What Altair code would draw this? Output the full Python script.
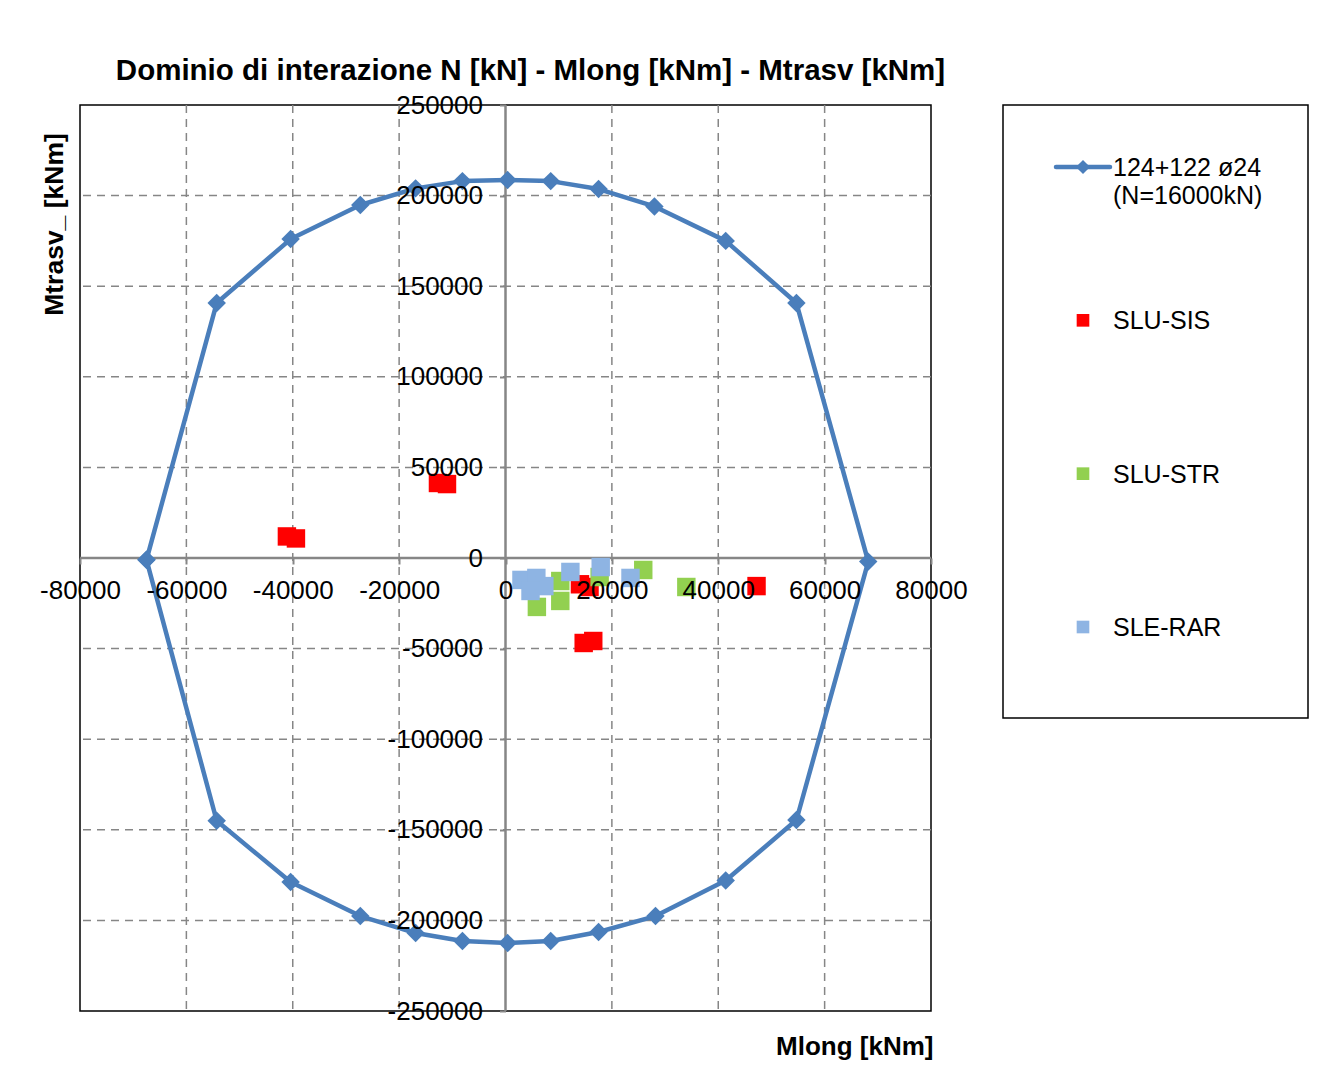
import altair as alt
import pandas as pd

TITLE = "Dominio di interazione N [kN] - Mlong [kNm] - Mtrasv [kNm]"
X_TITLE = "Mlong [kNm]"
Y_TITLE = "Mtrasv_ [kNm]"

SERIES = ["124+122 ø24\n(N=16000kN)", "SLU-SIS", "SLU-STR", "SLE-RAR"]
COLORS = ["#4A7EBB", "#FF0000", "#92D050", "#8EB4E3"]

# interaction domain (closed polygon)
dom_mlong = [-67500, -54300, -40400, -27300, -16900, -8100, 400, 8500, 17500, 28000,
             41400, 54700, 68200, 54700, 41400, 28200, 17500, 8500, 400, -8100,
             -16900, -27300, -40400, -54300, -67500]
dom_mtrasv = [-1000, 140700, 176000, 194800, 204000, 208000, 208600, 208000, 203600, 194000,
              175000, 140700, -2000, -144600, -178000, -197600, -206400, -211400, -212500, -211400,
              -207000, -197600, -178800, -145000, -1000]

sis_mlong = [-41100, -39400, -12700, -11000, 14000, 15800, 14700, 16500, 47200]
sis_mtrasv = [11900, 10800, 41400, 40800, -14500, -16000, -46900, -45800, -15500]

str_mlong = [5900, 10300, 10300, 17700, 25900, 34000]
str_mtrasv = [-27000, -12700, -23700, -10500, -6600, -16000]

rar_mlong = [3000, 5800, 7300, 4700, 12200, 17900, 23500]
rar_mtrasv = [-12100, -11000, -15500, -18200, -7700, -5000, -11000]

x_ticks = list(range(-80000, 80001, 20000))
y_ticks = list(range(-250000, 250001, 50000))

FONT = "Liberation Sans, Arial, Helvetica, sans-serif"
GRID = "#868686"

dom_df = pd.DataFrame({"Mlong": dom_mlong, "Mtrasv": dom_mtrasv, "i": range(len(dom_mlong))})
pts = []
for name, xs_, ys_ in [(SERIES[1], sis_mlong, sis_mtrasv), (SERIES[2], str_mlong, str_mtrasv),
                       (SERIES[3], rar_mlong, rar_mtrasv)]:
    for a, b in zip(xs_, ys_):
        pts.append({"Mlong": a, "Mtrasv": b, "serie": name})
pts_df = pd.DataFrame(pts)

xgrid_df = pd.DataFrame({"v": [v for v in x_ticks if v not in (0, x_ticks[0], x_ticks[-1])]})
ygrid_df = pd.DataFrame({"v": [v for v in y_ticks if v not in (0, y_ticks[0], y_ticks[-1])]})
zero_df = pd.DataFrame({"v": [0]})

xs = alt.Scale(domain=[x_ticks[0], x_ticks[-1]], nice=False, zero=False)
ys = alt.Scale(domain=[y_ticks[0], y_ticks[-1]], nice=False, zero=False)
color_scale = alt.Scale(domain=SERIES, range=COLORS)

x_axis = alt.Axis(values=x_ticks, labelExpr="toString(datum.value)", orient="bottom", offset=-453,
                  grid=False, domain=False, tickSize=6, tickColor=GRID, tickWidth=2,
                  labelFont=FONT, labelFontSize=26, labelColor="black", labelPadding=13,
                  labelFlush=False, labelOverlap=False, zindex=1,
                  title=X_TITLE, titleFont=FONT, titleFontSize=26, titleFontWeight="bold",
                  titleColor="black", titleX=853, titleY=488, titleAlign="right",
                  titleBaseline="middle", titleAngle=0)
y_axis = alt.Axis(values=y_ticks, labelExpr="toString(datum.value)", orient="left", offset=-425.5,
                  grid=False, domain=False, tickSize=6, tickColor=GRID, tickWidth=2,
                  labelFont=FONT, labelFontSize=26, labelColor="black", labelPadding=17,
                  labelFlush=False, labelOverlap=False, zindex=1,
                  title=Y_TITLE, titleFont=FONT, titleFontSize=26.5, titleFontWeight="bold",
                  titleColor="black", titleX=-451, titleY=119, titleAlign="center",
                  titleBaseline="middle", titleAngle=270)

X = alt.X("Mlong:Q", scale=xs, axis=x_axis)
Y = alt.Y("Mtrasv:Q", scale=ys, axis=y_axis)

vgrid = alt.Chart(xgrid_df).mark_rule(color=GRID, strokeWidth=1.5, strokeDash=[8, 6]).encode(
    x=alt.X("v:Q", scale=xs, axis=x_axis))
hgrid = alt.Chart(ygrid_df).mark_rule(color=GRID, strokeWidth=1.5, strokeDash=[8, 6]).encode(
    y=alt.Y("v:Q", scale=ys, axis=y_axis))
vzero = alt.Chart(zero_df).mark_rule(color=GRID, strokeWidth=2.5).encode(
    x=alt.X("v:Q", scale=xs, axis=x_axis))
hzero = alt.Chart(zero_df).mark_rule(color=GRID, strokeWidth=2.5).encode(
    y=alt.Y("v:Q", scale=ys, axis=y_axis))

line = alt.Chart(dom_df).mark_line(color=COLORS[0], strokeWidth=4.5, strokeJoin="round").encode(
    x=X, y=Y, order="i:Q")
diamonds = alt.Chart(dom_df).mark_point(shape="diamond", filled=True, size=340, opacity=1,
                                        color=COLORS[0]).encode(x=X, y=Y)
scatter = alt.Chart(pts_df).mark_square(size=340, opacity=1).encode(
    x=X, y=Y, color=alt.Color("serie:N", scale=color_scale, legend=None))

main = alt.layer(vgrid, hgrid, vzero, hzero, line, diamonds, scatter).properties(
    width=851, height=906,
    title=alt.TitleParams(TITLE, font=FONT, fontSize=29.5, fontWeight="bold", color="black",
                          anchor="middle", dx=25, offset=6),
)

# legend panel, drawn from the series list
leg_df = pd.DataFrame({"serie": SERIES, "pos": list(range(len(SERIES))),
                       "kind": ["line", "square", "square", "square"]})
ly = alt.Scale(domain=[0, len(SERIES) - 1], range=[62, 522])
LY = alt.Y("pos:Q", scale=ly, axis=None)
base = alt.Chart(leg_df)
leg_line = base.transform_filter(alt.datum.kind == "line").mark_rule(
    strokeWidth=4.5, strokeCap="round").encode(
    x=alt.value(53), x2=alt.value(107), y=LY,
    color=alt.Color("serie:N", scale=color_scale, legend=None))
leg_diam = base.transform_filter(alt.datum.kind == "line").mark_point(
    shape="diamond", filled=True, size=200, opacity=1).encode(
    x=alt.value(80), y=LY, color=alt.Color("serie:N", scale=color_scale, legend=None))
leg_sq = base.transform_filter(alt.datum.kind == "square").mark_square(
    size=160, opacity=1).encode(
    x=alt.value(80), y=LY, color=alt.Color("serie:N", scale=color_scale, legend=None))
leg_txt = base.mark_text(align="left", baseline="alphabetic", dy=9, lineBreak="\n",
                         lineHeight=28, font=FONT, fontSize=25, color="black").encode(
    x=alt.value(110), y=LY, text="serie:N")
legend_panel = alt.layer(leg_line, leg_diam, leg_sq, leg_txt).properties(width=305, height=613)

chart = alt.hconcat(main, legend_panel, spacing=72, bounds="flush").properties(
    padding={"left": 30, "top": 46, "right": 5, "bottom": 5},
).configure_view(stroke="black", strokeWidth=1.5)

chart.save("out.html", embed_options={"renderer": "svg", "actions": False})
